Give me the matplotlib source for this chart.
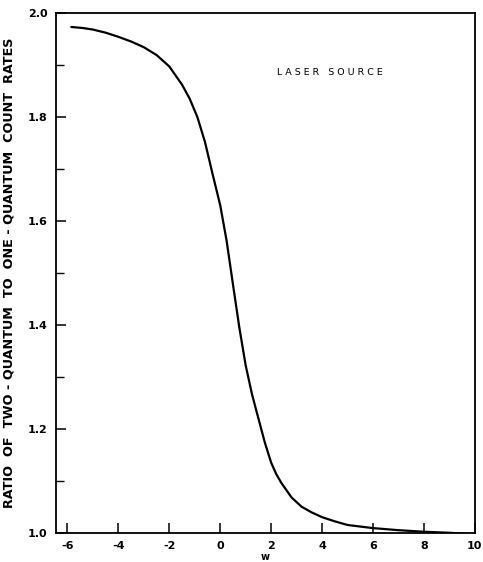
import matplotlib
matplotlib.use("Agg")
import matplotlib.pyplot as plt
from matplotlib.ticker import MultipleLocator

# curve (w, ratio)
w = [-5.85, -5.4, -5.0, -4.5, -4.0, -3.5, -3.0, -2.5, -2.0, -1.5, -1.2, -0.9,
     -0.6, -0.3, 0.0, 0.25, 0.5, 0.75, 1.0, 1.25, 1.5, 1.75, 2.0, 2.2, 2.4,
     2.8, 3.2, 3.6, 4.0, 4.5, 5.0, 6.0, 7.0, 8.0, 9.0, 9.7]
ratio = [1.973, 1.971, 1.968, 1.962, 1.954, 1.945, 1.934, 1.919, 1.897, 1.862,
         1.835, 1.800, 1.752, 1.690, 1.630, 1.562, 1.478, 1.395, 1.322, 1.266,
         1.220, 1.174, 1.135, 1.113, 1.096, 1.068, 1.050, 1.039, 1.030, 1.022,
         1.015, 1.009, 1.005, 1.002, 1.000, 0.998]

x_ticks = [-6, -4, -2, 0, 2, 4, 6, 8, 10]
y_ticks = [1.0, 1.2, 1.4, 1.6, 1.8, 2.0]

plt.rcParams["font.family"] = ["DejaVu Sans"]

fig = plt.figure(figsize=(4.83, 5.62), dpi=100)
ax = fig.add_axes([0.116, 0.052, 0.867, 0.925])

ax.plot(w, ratio, color="black", lw=1.6, solid_joinstyle="round",
        solid_capstyle="round")

ax.set_xlim(-6.45, 10.0)
ax.set_ylim(1.0, 2.0)
ax.set_xticks(x_ticks)
ax.set_xticklabels([str(t) for t in x_ticks], fontsize=8, fontweight="bold")
ax.set_yticks(y_ticks)
ax.set_yticklabels([f"{t:.1f}" for t in y_ticks], fontsize=8, fontweight="bold")
ax.yaxis.set_minor_locator(MultipleLocator(0.1))
ax.tick_params(axis="both", which="major", direction="in", length=7, width=1.1, pad=6)
ax.tick_params(axis="y", which="minor", direction="in", length=6, width=1.0)

for s in ax.spines.values():
    s.set_linewidth(1.3)

ax.set_xlabel("w", fontsize=7, fontweight="bold", labelpad=1)
ax.set_ylabel("RATIO  OF  TWO - QUANTUM  TO  ONE - QUANTUM  COUNT  RATES",
              fontsize=9.2, fontweight="bold", labelpad=9)

ax.text(0.527, 0.885, "L A S E R   S O U R C E", transform=ax.transAxes,
        fontsize=6.8, ha="left", va="center")

fig.savefig("out.png", dpi=100)
